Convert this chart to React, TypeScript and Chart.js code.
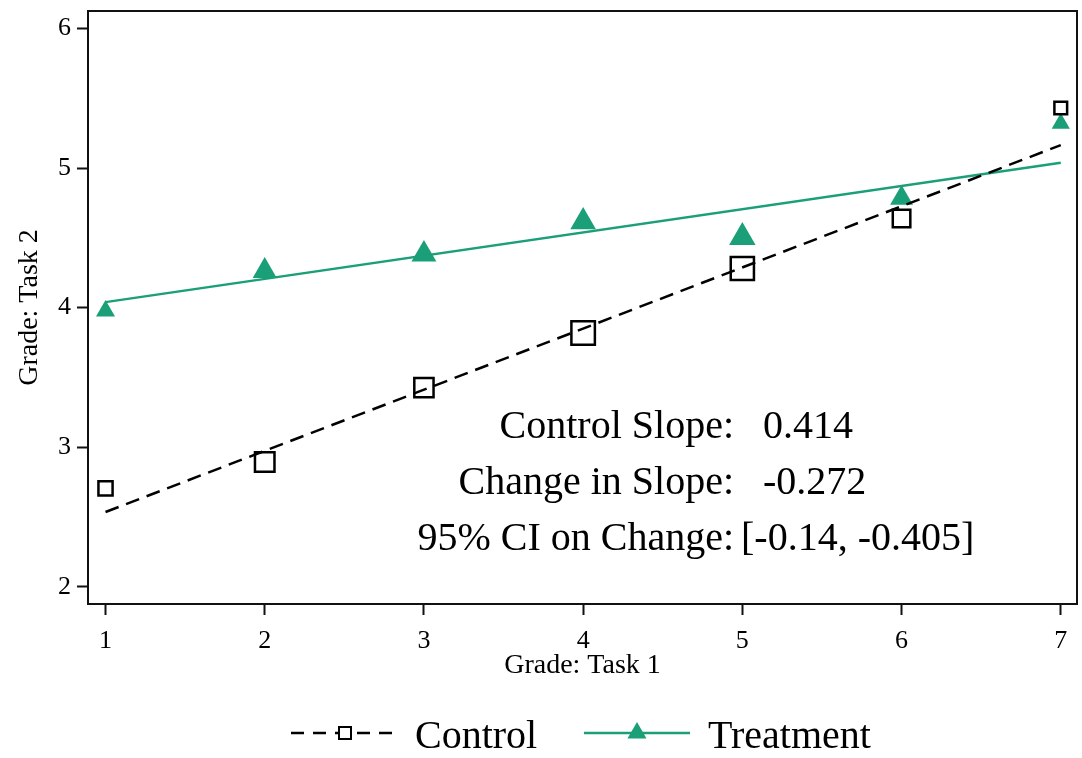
import React, { useEffect, useRef } from "react";
import { Chart, registerables } from "chart.js";

Chart.register(...registerables);

// ---- data ----
const xValues = [1, 2, 3, 4, 5, 6, 7];
const controlY = [2.704, 2.894, 3.427, 3.818, 4.28, 4.638, 5.43];
const treatmentY = [3.976, 4.262, 4.381, 4.615, 4.503, 4.784, 5.319];
const fitX = [1, 7];
const controlFitY = [2.535, 5.164];
const treatmentFitY = [4.039, 5.037];
const xTicks = [1, 2, 3, 4, 5, 6, 7];
const yTicks = [2, 3, 4, 5, 6];
const seriesLabels = ["Control", "Treatment"];
const xTitle = "Grade: Task 1";
const yTitle = "Grade: Task 2";
const annotationLabels = ["Control Slope:", "Change in Slope:", "95% CI on Change:"];
const annotationValues = ["0.414", "-0.272", "[-0.14, -0.405]"];

// ---- styles ----
const controlMarkerRadius = [10, 13.8, 13.6, 16.6, 16.4, 12.4, 9];
const treatmentMarkerRadius = [11, 13.9, 14.4, 14.8, 15.3, 13.2, 10.5];
const GREEN = "#1a9f78";
const FONT = "'Liberation Serif', 'Times New Roman', serif";

const toPoints = (xs: number[], ys: number[]) => xs.map((x, i) => ({ x, y: ys[i] }));

const framePlugin = {
  id: "frameAndText",
  afterDraw(chart: any) {
    const { ctx, chartArea } = chart;
    ctx.save();
    // frame
    ctx.strokeStyle = "#111";
    ctx.lineWidth = 2;
    ctx.strokeRect(chartArea.left, chartArea.top, chartArea.right - chartArea.left, chartArea.bottom - chartArea.top);

    // annotation
    ctx.fillStyle = "#000";
    ctx.font = `40px ${FONT}`;
    ctx.textBaseline = "alphabetic";
    const colonX = 734;
    const valueX = [763, 763, 741];
    const baseY = [438, 494, 550];
    annotationLabels.forEach((lab, i) => {
      ctx.textAlign = "right";
      ctx.fillText(lab, colonX, baseY[i]);
      ctx.textAlign = "left";
      ctx.fillText(annotationValues[i], valueX[i], baseY[i]);
    });

    // legend
    const ly = 733;
    // control entry
    ctx.strokeStyle = "#000";
    ctx.lineWidth = 2.5;
    ctx.setLineDash([13, 9]);
    ctx.beginPath();
    ctx.moveTo(291, ly);
    ctx.lineTo(395, ly);
    ctx.stroke();
    ctx.setLineDash([]);
    ctx.fillStyle = "#fff";
    ctx.fillRect(339, ly - 6, 12, 12);
    ctx.lineWidth = 2;
    ctx.strokeRect(339, ly - 6, 12, 12);
    // treatment entry
    ctx.strokeStyle = GREEN;
    ctx.lineWidth = 2.5;
    ctx.beginPath();
    ctx.moveTo(584, ly);
    ctx.lineTo(690, ly);
    ctx.stroke();
    ctx.fillStyle = GREEN;
    const r = 11;
    ctx.beginPath();
    ctx.moveTo(637, ly - r);
    ctx.lineTo(637 + r * Math.sin((2 * Math.PI) / 3), ly - r * Math.cos((2 * Math.PI) / 3));
    ctx.lineTo(637 + r * Math.sin((4 * Math.PI) / 3), ly - r * Math.cos((4 * Math.PI) / 3));
    ctx.closePath();
    ctx.fill();

    ctx.fillStyle = "#000";
    ctx.font = `40px ${FONT}`;
    ctx.textAlign = "left";
    ctx.fillText(seriesLabels[0], 415, 748);
    ctx.fillText(seriesLabels[1], 708, 748);
    ctx.restore();
  },
};

const zeroPad = (s: any) => {
  s.paddingTop = 0;
  s.paddingBottom = 0;
  s.paddingLeft = 0;
  s.paddingRight = 0;
};

export default function App() {
  const canvasRef = useRef<HTMLCanvasElement | null>(null);

  useEffect(() => {
    document.body.style.margin = "0";
    const canvas = canvasRef.current;
    if (!canvas) return;
    const chart = new Chart(canvas, {
      type: "scatter",
      data: {
        datasets: [
          {
            type: "line",
            label: seriesLabels[0] + " fit",
            data: toPoints(fitX, controlFitY),
            borderColor: "#000",
            borderWidth: 2.5,
            borderDash: [14, 8],
            pointRadius: 0,
            fill: false,
          } as any,
          {
            type: "line",
            label: seriesLabels[1] + " fit",
            data: toPoints(fitX, treatmentFitY),
            borderColor: GREEN,
            borderWidth: 2.5,
            pointRadius: 0,
            fill: false,
          } as any,
          {
            label: seriesLabels[0],
            data: toPoints(xValues, controlY),
            pointStyle: "rect",
            pointRadius: controlMarkerRadius,
            pointHoverRadius: controlMarkerRadius,
            borderColor: "#000",
            backgroundColor: "rgba(255,255,255,0)",
            borderWidth: 2.5,
            pointBorderWidth: 2.5,
          } as any,
          {
            label: seriesLabels[1],
            data: toPoints(xValues, treatmentY),
            pointStyle: "triangle",
            pointRadius: treatmentMarkerRadius,
            pointHoverRadius: treatmentMarkerRadius,
            borderColor: GREEN,
            backgroundColor: GREEN,
            borderWidth: 0,
            pointBorderWidth: 0,
          } as any,
        ],
      },
      options: {
        animation: false,
        responsive: true,
        maintainAspectRatio: false,
        layout: { autoPadding: false, padding: { top: 11, right: 5, left: 0, bottom: 0 } },
        plugins: { legend: { display: false }, tooltip: { enabled: false } },
        scales: {
          x: {
            type: "linear",
            min: 0.89,
            max: 7.102,
            afterBuildTicks: (s: any) => {
              s.ticks = xTicks.map((v) => ({ value: v }));
            },
            afterFit: (s: any) => {
              s.height = 154;
              zeroPad(s);
            },
            grid: {
              drawOnChartArea: false,
              drawTicks: true,
              tickLength: 11,
              tickColor: "#111",
              tickWidth: 2,
            },
            border: { display: false },
            ticks: {
              color: "#000",
              font: { family: FONT, size: 26 },
              padding: 11,
              maxRotation: 0,
              autoSkip: false,
            },
            title: {
              display: true,
              text: xTitle,
              color: "#000",
              font: { family: FONT, size: 28 },
              padding: { top: 0, bottom: 76 },
            },
          },
          y: {
            type: "linear",
            min: 1.876,
            max: 6.125,
            afterBuildTicks: (s: any) => {
              s.ticks = yTicks.map((v) => ({ value: v }));
            },
            afterFit: (s: any) => {
              s.width = 88;
              zeroPad(s);
            },
            grid: {
              drawOnChartArea: false,
              drawTicks: true,
              tickLength: 11,
              tickColor: "#111",
              tickWidth: 2,
            },
            border: { display: false },
            ticks: {
              color: "#000",
              font: { family: FONT, size: 26 },
              padding: 6,
              autoSkip: false,
            },
            title: {
              display: true,
              text: yTitle,
              color: "#000",
              font: { family: FONT, size: 28 },
              padding: { top: 13, bottom: 0 },
            },
          },
        },
      },
      plugins: [framePlugin],
    });
    return () => chart.destroy();
  }, []);

  return (
    <div style={{ width: 1082, height: 758, position: "relative" }}>
      <canvas ref={canvasRef} />
    </div>
  );
}
